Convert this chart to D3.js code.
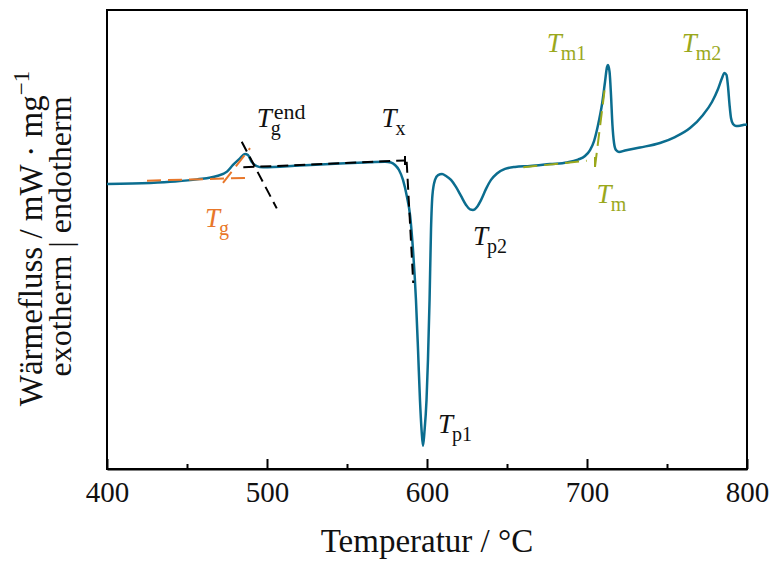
<!DOCTYPE html>
<html>
<head>
<meta charset="utf-8">
<script src="https://cdn.jsdelivr.net/npm/d3@7"></script>
<style>
  body { margin: 0; background: #fff; }
  svg text { font-family: "Liberation Serif", "Times New Roman", serif; }
</style>
</head>
<body>
<svg id="chart" width="769" height="561"></svg>
<script>
// ---------- data ----------
const temperature = [400, 426.9, 442.5, 456.25, 468.75, 475, 478.75, 483.1, 486.25, 488.1, 490.4, 493.6, 497.5,
  520.6, 545.6, 564.4, 573.75, 577.5, 580, 582.5, 585, 587.5, 589.4, 591.25, 593.1, 594.4, 595.6, 596.6, 597.5,
  598.4, 599.7, 600.6, 601.6, 602.5, 603.4, 605, 606.9, 609.4, 611.9, 615, 618.1, 621.25, 624.4, 626.9, 628.75,
  631.25, 633.75, 636.9, 640, 643.75, 648.75, 655, 664.4, 676.9, 687.5, 694.4, 698.75, 701.9, 704.4, 706.9,
  709.4, 711.25, 712.5, 713.1, 714.1, 715, 715.9, 716.9, 718.1, 720, 723.75, 733.1, 745.6, 755, 764.4, 772.5,
  778.1, 781.9, 784.4, 785.9, 787.2, 788.1, 789.1, 790, 791.25, 793.1, 795.6, 798.1, 800];
const heatFlow = [-0.017, -0.011, -0.003, 0.009, 0.028, 0.052, 0.089, 0.126, 0.150, 0.144, 0.107, 0.083, 0.076,
  0.086, 0.097, 0.104, 0.107, 0.103, 0.089, 0.061, 0.006, -0.089, -0.189, -0.383, -0.661, -0.939, -1.217, -1.383, -1.472,
  -1.394, -1.217, -0.994, -0.661, -0.272, -0.078, 0.006, 0.033, 0.039, 0.028, 0.006, -0.033, -0.083, -0.133, -0.158, -0.161,
  -0.144, -0.106, -0.044, 0.006, 0.042, 0.067, 0.078, 0.083, 0.094, 0.103, 0.119, 0.139, 0.172, 0.222, 0.311,
  0.428, 0.550, 0.633, 0.644, 0.606, 0.478, 0.311, 0.211, 0.172, 0.161, 0.169, 0.186, 0.211, 0.244, 0.294, 0.367,
  0.439, 0.511, 0.572, 0.600, 0.589, 0.528, 0.422, 0.350, 0.317, 0.306, 0.307, 0.312, 0.314];

const xTicks = [400, 500, 600, 700, 800];
const xMinorTicks = [450, 550, 650, 750];

// tangent construction lines: [[T1, v1], [T2, v2]]
const tgBaseline = [[425, 0.002], [487.5, 0.017]];
const tgTangent = [[472.5, -0.011], [489.4, 0.183]];
const tgEndTangent = [[484.2, 0.218], [506.1, -0.152]];
const glassBaseline = [[485.2, 0.076], [586.25, 0.114]];
const txMark = [[586.25, 0.139], [586.25, 0.089]];
const txTangent = [[587.3, 0.107], [591.4, -0.567]];
const meltBaseline = [[660.2, 0.076], [699.8, 0.113]];
const tmMark = [[705, 0.133], [705, 0.078]];
const tmTangent = [[705, 0.079], [711.25, 0.524]];

// annotation labels
const labels = [
  {main: "T", sub: "g", sup: "end", t: 493.6, v: 0.300, color: "#111"},
  {main: "T", sub: "x", sup: "", t: 571.6, v: 0.300, color: "#111"},
  {main: "T", sub: "g", sup: "", t: 461.25, v: -0.256, color: "#e8772a"},
  {main: "T", sub: "p1", sup: "", t: 606.9, v: -1.400, color: "#111"},
  {main: "T", sub: "p2", sup: "", t: 628.75, v: -0.356, color: "#111"},
  {main: "T", sub: "m1", sup: "", t: 674.8, v: 0.717, color: "#9aa81c"},
  {main: "T", sub: "m2", sup: "", t: 759.2, v: 0.717, color: "#9aa81c"},
  {main: "T", sub: "m", sup: "", t: 706, v: -0.122, color: "#9aa81c"}
];

// ---------- chart ----------
const svg = d3.select("#chart");
const mLeft = 107, mRight = 747, mTop = 10, mBottom = 469;
const x = d3.scaleLinear().domain([400, 800]).range([mLeft, mRight]);
const y = d3.scaleLinear().domain([-1.6, 0.95]).range([mBottom, mTop]);

const curveColor = "#0b6d8f";
const orange = "#e8772a";
const green = "#9aa81c";

// frame
svg.append("rect")
  .attr("x", mLeft).attr("y", mTop)
  .attr("width", mRight - mLeft).attr("height", mBottom - mTop)
  .attr("fill", "none").attr("stroke", "#000").attr("stroke-width", 2);

// x axis
const xAxis = d3.axisBottom(x).tickValues(xTicks).tickSizeInner(-10).tickSizeOuter(0).tickFormat(d3.format("d"));
const gx = svg.append("g").attr("transform", `translate(0,${mBottom})`).call(xAxis);
gx.select(".domain").attr("stroke", "#000").attr("stroke-width", 2);
gx.selectAll(".tick line").attr("stroke", "#000").attr("stroke-width", 2);
gx.selectAll(".tick text")
  .attr("y", 33).attr("dy", null)
  .attr("fill", "#111")
  .style("font-size", "29px")
  .style("font-family", "'Liberation Serif', 'Times New Roman', serif");

const xMinor = d3.axisBottom(x).tickValues(xMinorTicks).tickSizeInner(-5).tickSizeOuter(0).tickFormat("");
const gxm = svg.append("g").attr("transform", `translate(0,${mBottom})`).call(xMinor);
gxm.select(".domain").remove();
gxm.selectAll(".tick line").attr("stroke", "#000").attr("stroke-width", 2);

// axis titles
svg.append("text")
  .attr("x", (mLeft + mRight) / 2).attr("y", 552)
  .attr("text-anchor", "middle")
  .style("font-size", "33px").attr("fill", "#111")
  .text("Temperatur / °C");

const yc = (mTop + mBottom) / 2 - 1;
const yt1 = svg.append("text")
  .attr("transform", `translate(42,${yc}) rotate(-90)`)
  .attr("text-anchor", "middle")
  .style("font-size", "33px").attr("fill", "#111");
yt1.append("tspan").text("Wärmefluss / mW · mg");
yt1.append("tspan").attr("dy", -13).style("font-size", "23px").text("−1");

svg.append("text")
  .attr("transform", `translate(71,${yc - 2}) rotate(-90)`)
  .attr("text-anchor", "middle")
  .style("font-size", "32px").attr("fill", "#111")
  .text("exotherm | endotherm");

// curve
const data = temperature.map((t, i) => [t, heatFlow[i]]);
svg.append("path").datum(data)
  .attr("d", d3.line().x(d => x(d[0])).y(d => y(d[1])).curve(d3.curveMonotoneX))
  .attr("fill", "none").attr("stroke", curveColor).attr("stroke-width", 2.5);

// construction lines (drawn over the curve)
const seg = d3.line().x(d => x(d[0])).y(d => y(d[1]));
function dashed(data, color, dash) {
  svg.append("path").datum(data)
    .attr("d", seg)
    .attr("fill", "none").attr("stroke", color)
    .attr("stroke-width", 2).attr("stroke-dasharray", dash);
}
dashed(tgBaseline, orange, "14,7");
dashed(tgTangent, orange, "14,7");
dashed(tgEndTangent, "#000", "11,6");
dashed(glassBaseline, "#000", "11,6");
dashed(txMark, "#000", "none");
dashed(txTangent, "#000", "11,6");
dashed(meltBaseline, green, "14,7");
dashed(tmMark, green, "none");
dashed(tmTangent, green, "14,7");

// labels
labels.forEach(l => {
  const tx = svg.append("text")
    .attr("x", x(l.t)).attr("y", y(l.v))
    .attr("fill", l.color).style("font-size", "27px");
  tx.append("tspan").style("font-style", "italic").text(l.main);
  tx.append("tspan").attr("dy", 8).attr("dx", -1).style("font-size", "20px").text(l.sub);
  if (l.sup) {
    // superscript as its own text, stacked above the subscript
    svg.append("text")
      .attr("x", x(l.t) + 17).attr("y", y(l.v) - 8)
      .attr("fill", l.color).style("font-size", "22px")
      .text(l.sup);
  }
});
</script>
</body>
</html>
